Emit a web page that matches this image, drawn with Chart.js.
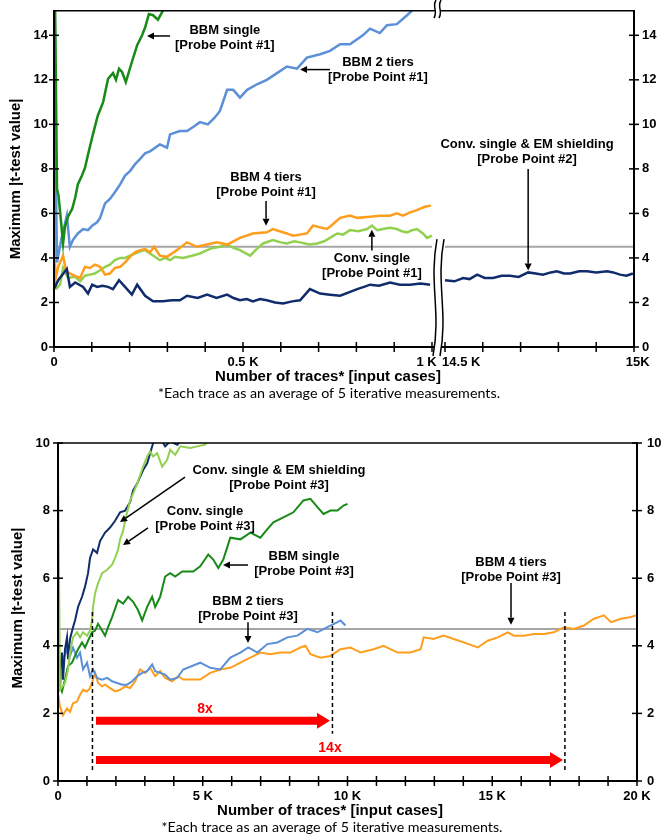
<!DOCTYPE html>
<html><head><meta charset="utf-8">
<script src="https://cdn.jsdelivr.net/npm/chart.js@4.4.1/dist/chart.umd.min.js"></script>
<style>
html,body{margin:0;padding:0;background:#fff;}
#wrap{position:relative;width:661px;height:837px;overflow:hidden;background:#fff;}
canvas{position:absolute;left:0;}
#c1{top:0;} #c2{top:400px;}
</style></head><body>
<div id="wrap">
<canvas id="c1" width="661" height="400"></canvas>
<canvas id="c2" width="661" height="437"></canvas>
</div>
<script>
// ================= DATA =================
// Top chart: [number of traces, max |t| value]
const threshold = 4.5;
const topYTicks = [0,2,4,6,8,10,12,14];
const topXTicks = [0,100,200,300,400,500,600,700,800,900,1000,14500,14600,14700,14800,14900,15000];
const topXTickLabels = ["0","","","","","0.5 K","","","","","1 K","14.5 K","","","","","15K"];

const topNavyLeft = [[0,2.6],[11,3.0],[34,3.5],[42,2.7],[56,2.9],[77,2.7],[90,2.4],[101,2.8],[114,2.7],[128,2.75],[143,2.7],[156,2.6],[172,3.0],[188,2.7],[206,2.35],[220,2.8],[241,2.3],[262,2.05],[288,2.05],[312,2.1],[333,2.1],[352,2.3],[380,2.2],[405,2.35],[430,2.2],[458,2.35],[475,2.2],[492,2.1],[510,2.15],[526,2.05],[545,2.15],[563,2.1],[585,2.0],[606,1.95],[630,2.05],[651,2.1],[677,2.6],[704,2.4],[730,2.35],[757,2.3],[780,2.45],[802,2.6],[820,2.7],[836,2.8],[860,2.75],[889,2.9],[915,2.8],[942,2.8],[970,2.85],[995,2.8]];
const topNavyRight = [[14500,3.0],[14525,2.95],[14548,3.1],[14565,3.05],[14585,3.25],[14605,3.1],[14627,3.1],[14650,3.2],[14672,3.2],[14695,3.15],[14720,3.35],[14740,3.3],[14759,3.25],[14780,3.35],[14796,3.4],[14815,3.3],[14831,3.3],[14855,3.4],[14876,3.4],[14900,3.35],[14929,3.4],[14945,3.35],[14963,3.25],[14980,3.2],[14997,3.3]];
const topOrange = [[0,20],[3,3.0],[11,3.6],[24,4.1],[32,3.4],[48,3.25],[69,3.1],[82,3.6],[95,3.55],[108,3.7],[122,3.6],[135,3.25],[148,3.3],[161,3.55],[175,3.6],[188,3.8],[201,4.05],[214,4.25],[228,4.35],[241,4.4],[254,4.25],[265,4.5],[280,4.1],[299,4.05],[325,4.35],[352,4.7],[378,4.5],[405,4.6],[431,4.7],[458,4.6],[492,4.9],[526,5.1],[563,5.15],[579,5.3],[616,5.1],[632,5.0],[669,5.1],[685,5.45],[722,5.3],[730,5.4],[757,5.8],[783,5.9],[802,5.8],[836,5.85],[862,5.9],[889,5.9],[907,6.0],[923,5.9],[942,6.05],[960,6.15],[981,6.3],[997,6.35]];
const topLightGreen = [[0,2.9],[8,2.65],[16,2.8],[24,3.55],[37,3.1],[56,3.15],[69,2.95],[82,3.2],[95,3.25],[108,3.3],[122,3.45],[135,3.6],[148,3.7],[161,3.9],[175,4.0],[188,4.0],[201,4.1],[214,4.2],[228,4.3],[241,4.35],[254,4.2],[267,4.05],[280,3.9],[294,4.0],[307,3.9],[320,4.05],[341,4.0],[365,4.1],[386,4.2],[405,4.35],[421,4.45],[440,4.5],[458,4.6],[475,4.45],[492,4.35],[519,4.1],[536,4.4],[553,4.65],[579,4.8],[600,4.7],[616,4.65],[635,4.75],[651,4.7],[675,4.6],[696,4.65],[715,4.75],[730,4.9],[749,5.1],[765,5.05],[783,5.25],[805,5.2],[828,5.3],[841,5.45],[855,5.25],[870,5.3],[889,5.35],[907,5.3],[920,5.2],[934,5.15],[948,5.25],[960,5.3],[976,5.1],[987,4.9],[1000,5.0]];
const topBlue = [[0,25],[3,10],[8,3.8],[20,4.9],[34,5.9],[42,4.5],[50,4.8],[63,5.1],[77,5.3],[90,5.25],[101,5.45],[114,5.6],[122,5.8],[135,6.45],[148,6.65],[161,6.95],[175,7.3],[188,7.7],[201,7.9],[214,8.2],[228,8.45],[241,8.7],[255,8.8],[280,9.1],[299,8.95],[307,9.55],[333,9.7],[352,9.7],[370,9.9],[386,10.1],[407,10.0],[425,10.3],[439,10.6],[458,11.55],[474,11.55],[492,11.2],[511,11.55],[537,11.8],[563,12.0],[590,12.3],[616,12.6],[643,12.5],[669,13.0],[704,13.15],[730,13.3],[757,13.6],[783,13.6],[817,14.0],[836,14.3],[862,14.1],[881,14.45],[907,14.5],[934,14.9],[947,15.1],[960,15.5]];
const topDarkGreen = [[0,20],[8,7.1],[12,6.8],[16,6.1],[24,4.65],[29,5.4],[37,5.85],[48,6.2],[56,6.7],[63,7.3],[74,7.7],[82,8.05],[90,8.65],[103,9.55],[116,10.4],[130,11.0],[143,12.05],[156,12.3],[164,12.0],[172,12.5],[180,12.35],[190,11.9],[206,12.8],[220,13.55],[233,14.0],[241,14.35],[251,14.95],[262,14.9],[275,14.7],[288,15.1],[310,16]];

// Bottom chart
const botYTicks = [0,2,4,6,8,10];
const botXTicks = [0,1000,2000,3000,4000,5000,6000,7000,8000,9000,10000,11000,12000,13000,14000,15000,16000,17000,18000,19000,20000];
const botXTickLabels = ["0","","","","","5 K","","","","","10 K","","","","","15 K","","","","","20 K"];

const botNavy = [[0,6.5],[35,2.8],[69,3.3],[138,3.8],[173,3.0],[242,3.9],[311,4.25],[346,3.6],[415,4.2],[519,4.55],[588,4.75],[692,5.15],[830,5.45],[934,5.75],[1038,6.15],[1107,6.6],[1211,6.85],[1349,6.75],[1453,7.1],[1626,7.35],[1799,7.5],[1972,7.7],[2145,7.95],[2318,8.0],[2491,8.25],[2595,8.6],[2734,8.8],[2837,9.0],[2941,9.2],[3080,9.4],[3183,9.7],[3287,10.0],[3426,10.2],[3600,10.05],[3702,9.9],[3875,10.05],[4118,9.95],[4291,10.1],[4429,10.4]];
const botLightGreen = [[0,9.5],[69,2.7],[242,2.9],[346,3.3],[415,3.8],[519,4.25],[657,4.4],[761,4.25],[865,4.4],[1003,4.3],[1107,4.45],[1176,4.75],[1211,5.15],[1280,5.55],[1384,5.85],[1522,6.15],[1696,6.25],[1869,6.4],[1972,6.6],[2076,6.85],[2145,7.15],[2249,7.4],[2318,7.7],[2388,7.95],[2491,8.3],[2595,8.5],[2734,8.8],[2837,9.05],[2941,9.3],[3080,9.6],[3183,9.75],[3287,9.6],[3426,9.7],[3599,9.3],[3772,9.5],[3875,9.8],[4048,9.65],[4221,9.9],[4567,9.85],[4810,9.9],[5087,9.95],[5329,10.2]];
const botDarkGreen = [[0,3.0],[138,2.65],[242,3.0],[346,3.4],[484,3.5],[588,3.7],[692,3.9],[830,4.1],[934,3.95],[1038,4.15],[1176,4.4],[1280,4.45],[1384,4.65],[1522,4.45],[1626,4.3],[1730,4.55],[1869,4.85],[2076,5.35],[2249,5.25],[2422,5.45],[2595,5.3],[2768,5.05],[2907,4.75],[3080,5.15],[3253,5.45],[3356,5.15],[3529,5.45],[3702,6.05],[3875,6.15],[4048,6.05],[4291,6.2],[4671,6.2],[4913,6.35],[5190,6.7],[5363,6.55],[5536,6.3],[5709,6.55],[5952,7.2],[6298,7.15],[6644,7.35],[6990,7.2],[7232,7.45],[7439,7.65],[7785,7.8],[8131,7.95],[8478,8.3],[8720,8.35],[8962,8.1],[9170,7.9],[9412,8.0],[9654,8.0],[9862,8.15],[10000,8.2]];
const botBlue = [[0,4.0],[69,2.7],[138,3.5],[311,3.9],[415,3.7],[519,3.95],[657,3.65],[761,3.8],[865,3.3],[1003,3.5],[1107,3.1],[1211,3.3],[1349,3.05],[1522,3.0],[1696,3.05],[1869,2.95],[2042,2.9],[2215,2.85],[2388,2.85],[2561,2.95],[2734,3.1],[2907,3.2],[3080,3.25],[3253,3.45],[3356,3.25],[3529,3.2],[3702,3.15],[3875,3.0],[4118,3.05],[4325,3.3],[4913,3.5],[5260,3.35],[5606,3.3],[5952,3.65],[6298,3.8],[6574,3.95],[6886,3.8],[7232,4.05],[7578,4.1],[7924,4.25],[8270,4.3],[8616,4.5],[8962,4.4],[9308,4.55],[9654,4.7],[9758,4.75],[9931,4.6]];
const botOrange = [[0,2.6],[69,2.2],[173,1.95],[311,2.15],[415,2.05],[519,2.3],[657,2.35],[761,2.55],[865,2.7],[1003,2.65],[1107,2.75],[1211,3.0],[1280,3.2],[1384,2.9],[1522,2.8],[1626,2.85],[1799,2.75],[1972,2.65],[2145,2.7],[2318,2.8],[2491,2.75],[2664,2.95],[2837,3.3],[3010,3.2],[3183,3.35],[3356,3.1],[3529,3.25],[3702,3.05],[3945,2.95],[4152,3.1],[4325,3.0],[4913,3.0],[5260,3.2],[5606,3.3],[5952,3.35],[6298,3.5],[6644,3.65],[6990,3.8],[7336,3.75],[7682,3.8],[8028,3.8],[8374,3.95],[8547,4.0],[8720,3.75],[9066,3.65],[9412,3.7],[9758,3.9],[10104,3.95],[10450,3.8],[10900,3.9],[11246,4.0],[11730,3.8],[12180,3.8],[12526,3.9],[12630,4.25],[12976,4.2],[13322,4.3],[13668,4.2],[14014,4.1],[14498,3.95],[14844,4.15],[15190,4.25],[15536,4.4],[15744,4.3],[16090,4.3],[16436,4.35],[16782,4.35],[17128,4.4],[17474,4.55],[17820,4.5],[18166,4.6],[18512,4.8],[18858,4.9],[19100,4.7],[19446,4.8],[19792,4.85],[19965,4.9]];

// Annotations (data coordinates: traces, value)
const topNotes = [
  {t:452, v:14.24, text:["BBM single","[Probe Point #1]"]},
  {t:857, v:12.77, text:["BBM 2 tiers","[Probe Point #1]"]},
  {t:561, v:7.63, text:["BBM 4 tiers","[Probe Point #1]"]},
  {t:841, v:3.97, text:["Conv. single","[Probe Point #1]"]},
  {t:14717, v:9.11, text:["Conv. single & EM shielding","[Probe Point #2]"]}
];
const topArrows = [[307,13.97,246,13.97],[730,12.46,651,12.46],[561,6.56,561,5.45],[841,4.33,841,5.27],[14720,7.99,14720,3.44]];
const botNotes = [
  {t:7634, v:9.2, text:["Conv. single & EM shielding","[Probe Point #3]"]},
  {t:5078, v:7.99, text:["Conv. single","[Probe Point #3]"]},
  {t:8497, v:6.63, text:["BBM single","[Probe Point #3]"]},
  {t:6563, v:5.30, text:["BBM 2 tiers","[Probe Point #3]"]},
  {t:15648, v:6.48, text:["BBM 4 tiers","[Probe Point #3]"]}
];
const botArrows = [[4387,8.99,2142,7.66],[3109,7.49,2245,6.98],[6563,6.39,5699,6.39],[6563,4.70,6563,4.08],[15648,5.86,15648,4.62]];
const botDashed = [[1190,5.0,0.27],[9480,5.0,1.4],[17510,5.0,0.25]];
const botSpans = [{from:1313,to:9396,v:1.78,label:"8x",lt:5078,lv:2.13},{from:1313,to:17444,v:0.62,label:"14x",lt:9396,lv:0.98}];

const xTitle = "Number of traces* [input cases]";
const yTitle = "Maximum |t-test value|";
const footnote = "*Each trace as an average of 5 iterative measurements.";

// ================= STYLE / HELPERS =================
const C = {navy:'#102c6c', dgreen:'#178a17', blue:'#5b8fd8', orange:'#ff9d1c', lgreen:'#92d050', gray:'#a6a6a6', red:'#ff0000'};
const FAM = '"Liberation Sans", Arial, Helvetica, sans-serif';
const tickFont = {family: FAM, size: 13, weight: 'bold'};
const BREAK_FROM = 1000, BREAK_TO = 14500, BREAK_GAP = 34.4;
const topX = t => t <= BREAK_FROM ? t : BREAK_FROM + BREAK_GAP + (t - BREAK_TO);
const topLabelPad = {"1 K":"1 K   ", "14.5 K":"         14.5 K", "15K":"  15K"};

function series(points, color, width, xmap, order){
  return {data: points.map(p => ({x: xmap(p[0]), y: p[1]})), borderColor: color, borderWidth: width,
    pointRadius: 0, fill: false, tension: 0, spanGaps: false, order: order};
}
function seg(ctx,x1,y1,x2,y2){ctx.beginPath();ctx.moveTo(x1,y1);ctx.lineTo(x2,y2);ctx.stroke();}
function arrow(ctx,x1,y1,x2,y2,len,hw){
  const ang = Math.atan2(y2-y1,x2-x1);
  const bx = x2 - len*Math.cos(ang), by = y2 - len*Math.sin(ang);
  seg(ctx,x1,y1,bx,by);
  ctx.beginPath(); ctx.moveTo(x2,y2);
  ctx.lineTo(bx + hw*Math.sin(ang), by - hw*Math.cos(ang));
  ctx.lineTo(bx - hw*Math.sin(ang), by + hw*Math.cos(ang));
  ctx.closePath(); ctx.fill();
}
function textLines(ctx, lines, cx, cy, lh){
  lines.forEach((s,i)=>ctx.fillText(s, cx, cy + i*lh));
}
function fitText(ctx, s, cx, cy, w, family, bold){
  ctx.font = (bold?'bold ':'') + '20px ' + family;
  const size = 20 * w / ctx.measureText(s).width;
  ctx.font = (bold?'bold ':'') + size.toFixed(2) + 'px ' + family;
  ctx.fillText(s, cx, cy);
}
function wavy(ctx, cx, y0, y1, gap, amp){
  const h = y1 - y0;
  const L = [cx-gap+amp*0.5, y0, cx-gap-amp*1.6, y0+h*0.38, cx-gap+amp*1.6, y0+h*0.62, cx-gap-amp*0.5, y1];
  const R = L.map((v,i)=> i%2===0 ? v + 2*gap : v);
  ctx.save();
  ctx.fillStyle = '#fff';
  ctx.beginPath();
  ctx.moveTo(L[0],L[1]); ctx.bezierCurveTo(L[2],L[3],L[4],L[5],L[6],L[7]);
  ctx.lineTo(R[6],R[7]); ctx.bezierCurveTo(R[4],R[5],R[2],R[3],R[0],R[1]);
  ctx.closePath(); ctx.fill();
  ctx.strokeStyle = '#000'; ctx.lineWidth = 1.5;
  [L,R].forEach(P=>{ctx.beginPath();ctx.moveTo(P[0],P[1]);ctx.bezierCurveTo(P[2],P[3],P[4],P[5],P[6],P[7]);ctx.stroke();});
  ctx.restore();
}
function frame(ctx, a, yPix, yTicks, xPix, xTicks){
  ctx.strokeStyle = '#000';
  ctx.lineWidth = 1.5; seg(ctx,a.left,a.top,a.right,a.top);
  ctx.lineWidth = 2;
  seg(ctx,a.left,a.top-0.75,a.left,a.bottom+1); seg(ctx,a.right,a.top-0.75,a.right,a.bottom+1);
  seg(ctx,a.left-1,a.bottom,a.right+1,a.bottom);
  ctx.lineWidth = 1.5;
  yTicks.forEach(v=>{const p=yPix(v); seg(ctx,a.left-5,p,a.left+5,p); seg(ctx,a.right-5,p,a.right+5,p);});
  xTicks.forEach(t=>{const p=xPix(t); seg(ctx,p,a.bottom-5,p,a.bottom+5);});
}

Chart.defaults.font.family = FAM;
Chart.defaults.color = '#000';

// ================= TOP CHART =================
const topPlugin = {
  id: 'topDeco',
  afterDraw(chart){
    const {ctx, chartArea: a, scales: {x, y}} = chart;
    const X = t => x.getPixelForValue(topX(t)), Y = v => y.getPixelForValue(v);
    ctx.save();
    frame(ctx, a, Y, topYTicks, X, topXTicks);
    const bx = x.getPixelForValue(BREAK_FROM + BREAK_GAP/2);
    wavy(ctx, bx, Y(4.85), a.bottom + 9, 3.5, 4);
    wavy(ctx, bx - 1, 0, 18, 2.5, 2);
    ctx.fillStyle = '#000'; ctx.strokeStyle = '#000'; ctx.lineWidth = 1.5;
    topArrows.forEach(r => arrow(ctx, X(r[0]), Y(r[1]), X(r[2]), Y(r[3]), 7, 3.5));
    ctx.font = 'bold 13px ' + FAM; ctx.textAlign = 'center'; ctx.textBaseline = 'middle';
    topNotes.forEach(n => textLines(ctx, n.text, X(n.t), Y(n.v), 15));
    ctx.font = 'bold 15px ' + FAM;
    ctx.fillText(xTitle, 328, 377);
    ctx.save(); ctx.translate(16, (a.top + a.bottom)/2); ctx.rotate(-Math.PI/2);
    ctx.fillText(yTitle, 0, 0); ctx.restore();
    fitText(ctx, footnote, 329, 393, 342, 'Lato, "Open Sans", sans-serif', false);
    ctx.restore();
  }
};

const topNavyData = topNavyLeft.concat([[ (BREAK_FROM + BREAK_TO)/2, null ]], topNavyRight);
const topThreshold = [[0,threshold],[1000,threshold],[(BREAK_FROM + BREAK_TO)/2,null],[14500,threshold],[15000,threshold]];
const topMap = t => t === (BREAK_FROM + BREAK_TO)/2 ? BREAK_FROM + BREAK_GAP/2 : topX(t);

new Chart(document.getElementById('c1'), {
  type: 'line',
  data: { datasets: [
    series(topThreshold, C.gray, 2, topMap, 99),
    series(topLightGreen, C.lgreen, 2.5, topMap, 5),
    series(topOrange, C.orange, 2.5, topMap, 4),
    series(topBlue, C.blue, 2.5, topMap, 3),
    series(topDarkGreen, C.dgreen, 2.5, topMap, 2),
    series(topNavyData, C.navy, 2.5, topMap, 1)
  ]},
  options: {
    responsive: false, animation: false, events: [],
    layout: {padding: {top: 8, left: 0, right: 0, bottom: 0}},
    plugins: {legend: {display: false}, tooltip: {enabled: false}},
    scales: {
      x: {type: 'linear', min: 0, max: topX(15000),
        grid: {display: false, drawTicks: true, tickLength: 5}, border: {display: false},
        ticks: {font: tickFont, color: '#000', padding: 3, autoSkip: false, maxRotation: 0,
          callback: (v, i) => { const s = topXTickLabels[i] || ''; return topLabelPad[s] || s; }},
        afterBuildTicks: s => { s.ticks = topXTicks.map(t => ({value: topX(t)})); },
        afterFit: s => { s.height = 53; }},
      y: {type: 'linear', position: 'left', min: 0, max: 15.1,
        grid: {display: false, drawTicks: true, tickLength: 5}, border: {display: false},
        ticks: {font: tickFont, color: '#000', padding: 1},
        afterBuildTicks: s => { s.ticks = topYTicks.map(v => ({value: v})); },
        afterFit: s => { s.width = 54; }},
      y2: {type: 'linear', position: 'right', min: 0, max: 15.1,
        grid: {display: false, drawTicks: true, tickLength: 5}, border: {display: false},
        ticks: {font: tickFont, color: '#000', padding: 3},
        afterBuildTicks: s => { s.ticks = topYTicks.map(v => ({value: v})); },
        afterFit: s => { s.width = 27; }}
    }
  },
  plugins: [topPlugin]
});

// ================= BOTTOM CHART =================
const ident = t => t;
const botPlugin = {
  id: 'botDeco',
  afterDraw(chart){
    const {ctx, chartArea: a, scales: {x, y}} = chart;
    const X = t => x.getPixelForValue(t), Y = v => y.getPixelForValue(v);
    ctx.save();
    frame(ctx, a, Y, botYTicks, X, botXTicks);
    ctx.strokeStyle = '#000'; ctx.lineWidth = 1.5; ctx.setLineDash([4,3]);
    botDashed.forEach(d => seg(ctx, X(d[0]), Y(d[1]), X(d[0]), Y(d[2])));
    ctx.setLineDash([]);
    ctx.fillStyle = C.red; ctx.strokeStyle = C.red; ctx.lineWidth = 8; ctx.lineCap = 'butt';
    botSpans.forEach(s => arrow(ctx, X(s.from), Y(s.v), X(s.to), Y(s.v), 13, 8));
    ctx.font = 'bold 14px ' + FAM; ctx.textAlign = 'center'; ctx.textBaseline = 'middle';
    botSpans.forEach(s => ctx.fillText(s.label, X(s.lt), Y(s.lv)));
    ctx.fillStyle = '#000'; ctx.strokeStyle = '#000'; ctx.lineWidth = 1.5;
    botArrows.forEach(r => arrow(ctx, X(r[0]), Y(r[1]), X(r[2]), Y(r[3]), 7, 3.5));
    ctx.font = 'bold 13px ' + FAM;
    botNotes.forEach(n => textLines(ctx, n.text, X(n.t), Y(n.v), 15));
    ctx.font = 'bold 15px ' + FAM;
    ctx.fillText(xTitle, 330, 411);
    ctx.save(); ctx.translate(18, (a.top + a.bottom)/2 - 4); ctx.rotate(-Math.PI/2);
    ctx.fillText(yTitle, 0, 0); ctx.restore();
    fitText(ctx, footnote, 332, 427, 341, 'Lato, "Open Sans", sans-serif', false);
    ctx.restore();
  }
};

const botThreshold = [[0,threshold],[20000,threshold]];
new Chart(document.getElementById('c2'), {
  type: 'line',
  data: { datasets: [
    series(botThreshold, C.gray, 2, ident, 99),
    series(botOrange, C.orange, 2, ident, 6),
    series(botBlue, C.blue, 2, ident, 5),
    series(botDarkGreen, C.dgreen, 2, ident, 4),
    series(botNavy, C.navy, 2, ident, 3),
    series(botLightGreen, C.lgreen, 2, ident, 2)
  ]},
  options: {
    responsive: false, animation: false, events: [],
    layout: {padding: {top: 43, left: 0, right: 0, bottom: 0}},
    plugins: {legend: {display: false}, tooltip: {enabled: false}},
    scales: {
      x: {type: 'linear', min: 0, max: 20000,
        grid: {display: false, drawTicks: true, tickLength: 5}, border: {display: false},
        ticks: {font: tickFont, color: '#000', padding: 3, autoSkip: false, maxRotation: 0,
          callback: (v, i) => botXTickLabels[i] || ''},
        afterBuildTicks: s => { s.ticks = botXTicks.map(t => ({value: t})); },
        afterFit: s => { s.height = 56; }},
      y: {type: 'linear', position: 'left', min: 0, max: 10,
        grid: {display: false, drawTicks: true, tickLength: 5}, border: {display: false},
        ticks: {font: tickFont, color: '#000', padding: 3},
        afterBuildTicks: s => { s.ticks = botYTicks.map(v => ({value: v})); },
        afterFit: s => { s.width = 58; }},
      y2: {type: 'linear', position: 'right', min: 0, max: 10,
        grid: {display: false, drawTicks: true, tickLength: 5}, border: {display: false},
        ticks: {font: tickFont, color: '#000', padding: 5},
        afterBuildTicks: s => { s.ticks = botYTicks.map(v => ({value: v})); },
        afterFit: s => { s.width = 24; }}
    }
  },
  plugins: [botPlugin]
});
</script>
</body></html>
